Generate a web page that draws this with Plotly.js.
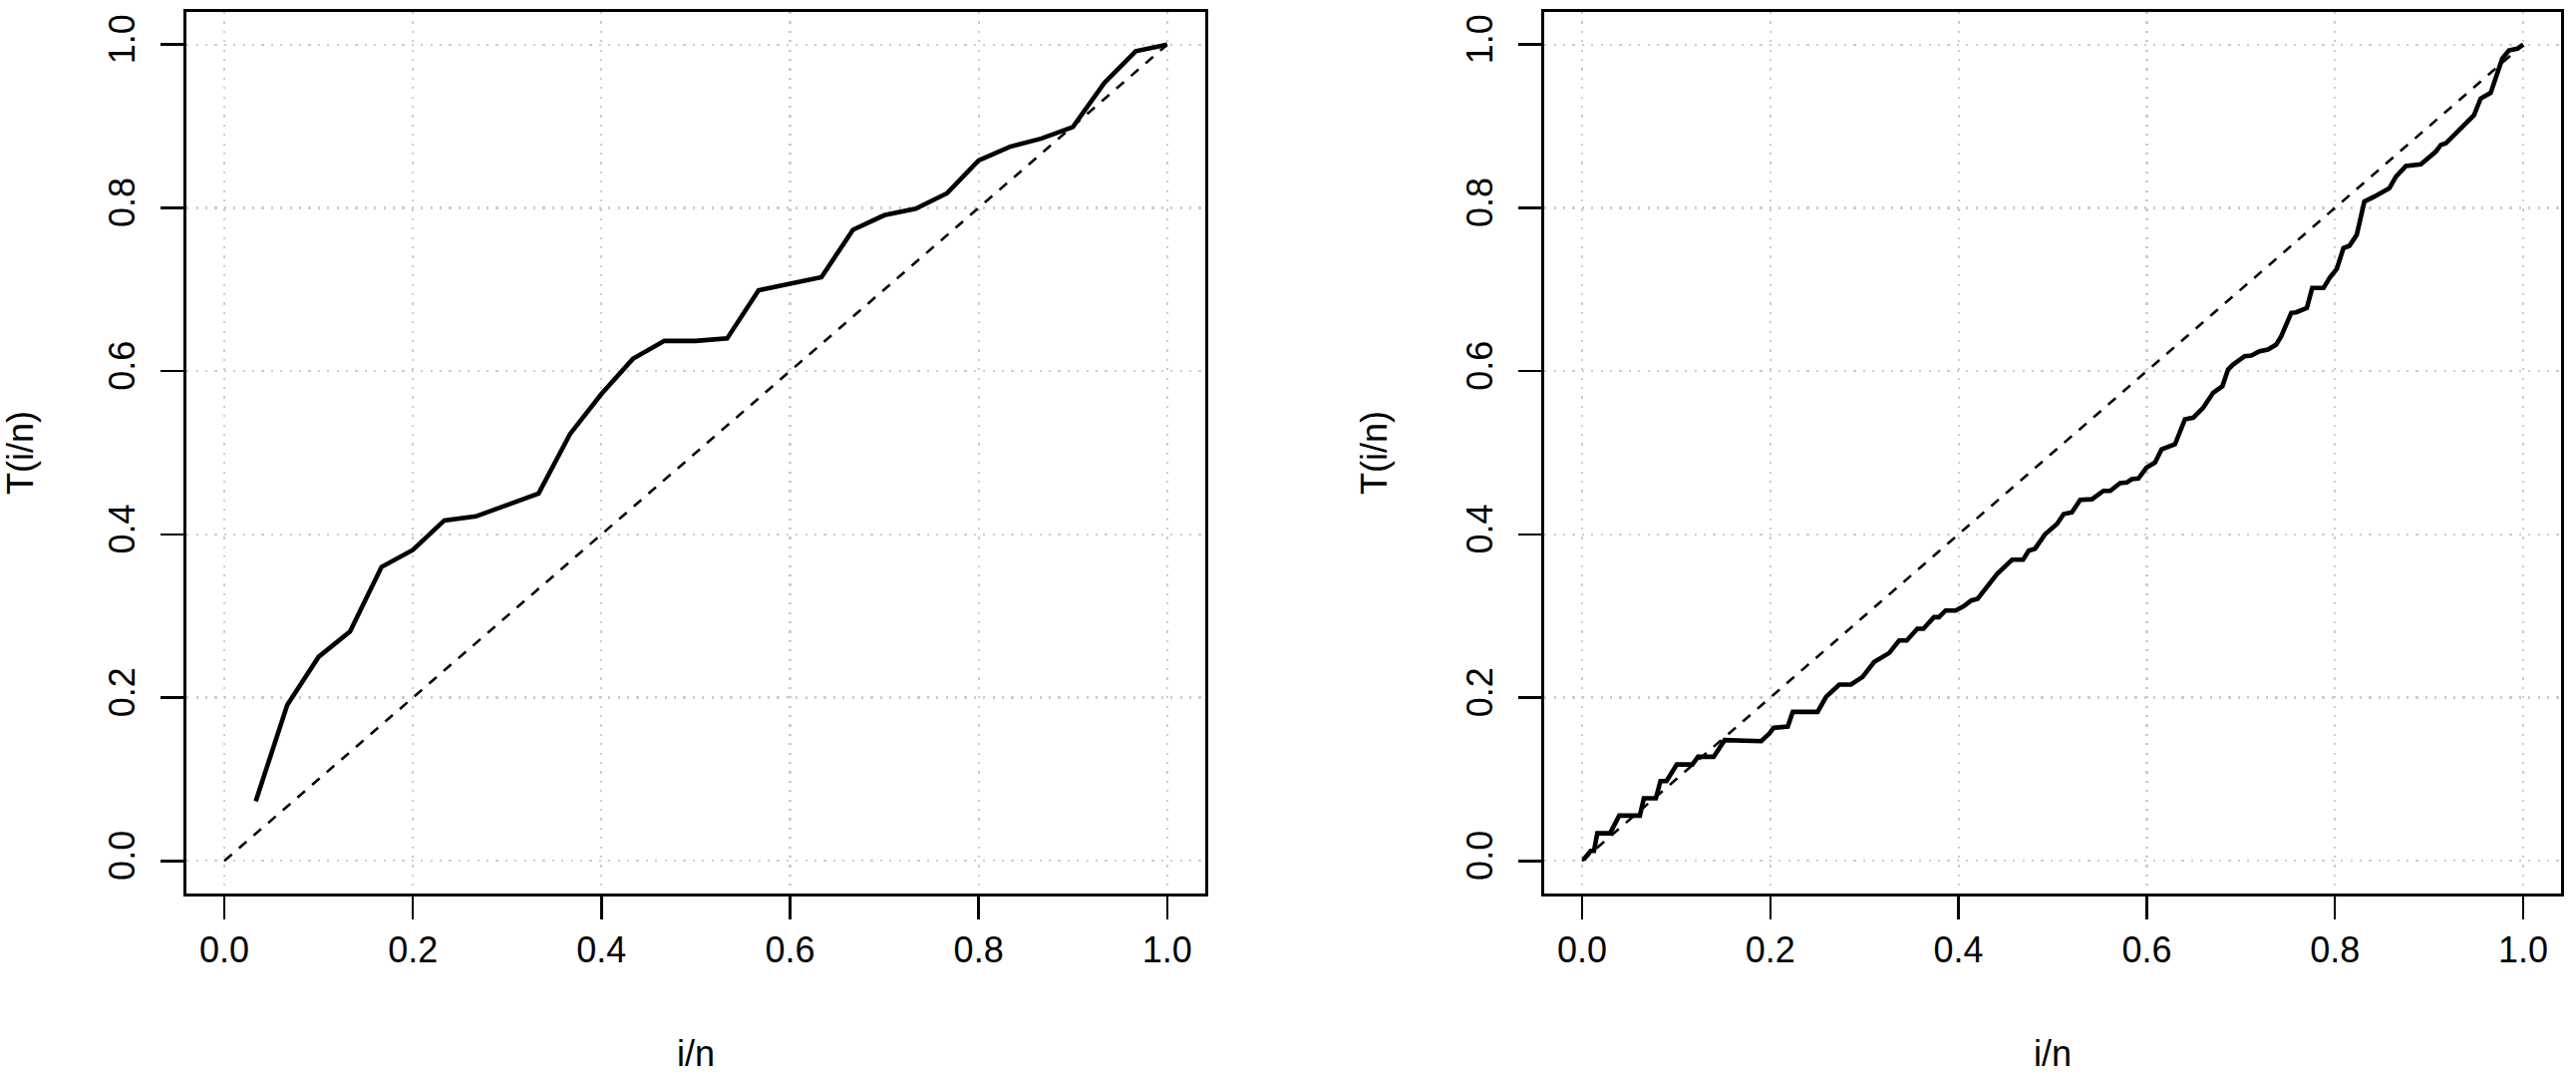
<!DOCTYPE html>
<html>
<head>
<meta charset="utf-8">
<script src="https://cdn.plot.ly/plotly-3.0.1.min.js"></script>
<style>html,body{margin:0;padding:0;background:#fff;}#chart{width:2584px;height:1080px;}</style>
</head>
<body>
<div id="chart"></div>
<script>
// Left panel: T(i/n) for n = 30
const leftX = [0.0333, 0.0667, 0.1, 0.1333, 0.1667, 0.2, 0.2333, 0.2667, 0.3, 0.3333,
               0.3667, 0.4, 0.4333, 0.4667, 0.5, 0.5333, 0.5667, 0.6, 0.6333, 0.6667,
               0.7, 0.7333, 0.7667, 0.8, 0.8333, 0.8667, 0.9, 0.9333, 0.9667, 1.0];
const leftY = [0.073, 0.191, 0.25, 0.281, 0.36, 0.381, 0.417, 0.422, 0.436, 0.45,
               0.523, 0.572, 0.615, 0.637, 0.637, 0.64, 0.699, 0.707, 0.715, 0.773,
               0.791, 0.799, 0.818, 0.858, 0.875, 0.885, 0.899, 0.953, 0.992, 1.0];

// Right panel: traced curve
const rightX = [0.0014, 0.0092, 0.0127, 0.0162, 0.0297, 0.0395, 0.0614, 0.0657, 0.0784, 0.0833,
                0.0897, 0.1006, 0.1172, 0.1232, 0.1398, 0.1515, 0.1903, 0.199, 0.2034, 0.2186,
                0.2239, 0.2503, 0.2592, 0.2733, 0.2857, 0.298, 0.3104, 0.3263, 0.3369, 0.345,
                0.3563, 0.3627, 0.3739, 0.3792, 0.3863, 0.3969, 0.4057, 0.4135, 0.4203, 0.4269,
                0.4322, 0.441, 0.4569, 0.4686, 0.4746, 0.4813, 0.4922, 0.5046, 0.5117, 0.5205,
                0.5293, 0.5417, 0.554, 0.5611, 0.5717, 0.5788, 0.584, 0.5911, 0.5999, 0.6088,
                0.6158, 0.63, 0.6406, 0.6494, 0.66, 0.6706, 0.6804, 0.6864, 0.6917, 0.7041,
                0.7111, 0.72, 0.7288, 0.7376, 0.7429, 0.7535, 0.7588, 0.7701, 0.7758, 0.7878,
                0.7942, 0.8019, 0.809, 0.8153, 0.8231, 0.8277, 0.8312, 0.8418, 0.8577, 0.8648,
                0.8754, 0.8912, 0.9071, 0.9124, 0.9177, 0.9478, 0.9548, 0.9654, 0.9707, 0.9778,
                0.9848, 0.9936, 1.0];
const rightY = [0.0012, 0.0122, 0.0122, 0.0338, 0.0338, 0.0555, 0.0555, 0.0766, 0.0766, 0.0978,
                0.0978, 0.118, 0.118, 0.1275, 0.1275, 0.1479, 0.1467, 0.156, 0.163, 0.1645,
                0.1825, 0.1825, 0.2009, 0.2159, 0.2159, 0.2253, 0.2436, 0.2546, 0.27, 0.27,
                0.2843, 0.2843, 0.2986, 0.2986, 0.3067, 0.3067, 0.312, 0.319, 0.321, 0.3311,
                0.3393, 0.3515, 0.369, 0.369, 0.38, 0.3825, 0.4004, 0.4126, 0.4249, 0.427,
                0.4423, 0.443, 0.4533, 0.4533, 0.4627, 0.4635, 0.4676, 0.4684, 0.4819, 0.488,
                0.5043, 0.5104, 0.541, 0.543, 0.5552, 0.5735, 0.5816, 0.602, 0.6081, 0.6183,
                0.619, 0.6244, 0.6265, 0.6326, 0.6427, 0.6713, 0.672, 0.6774, 0.7018, 0.7018,
                0.714, 0.7251, 0.7507, 0.7535, 0.767, 0.7894, 0.8077, 0.8138, 0.824, 0.8382,
                0.8513, 0.8533, 0.8688, 0.877, 0.879, 0.9136, 0.934, 0.9409, 0.9604, 0.9829,
                0.993, 0.995, 1.0];

// Reference diagonal
const diagX = [0, 1];
const diagY = [0, 1];

// Axis ticks
const tickValues = [0, 0.2, 0.4, 0.6, 0.8, 1.0];
const tickLabels = ['0.0', '0.2', '0.4', '0.6', '0.8', '1.0'];

const xTitle = 'i/n';
const yTitle = 'T(i/n)';

const FONT = 'Liberation Sans, Arial, Helvetica, sans-serif';

function axisStyle(extra) {
  return Object.assign({
    range: [-0.04, 1.04],
    tickmode: 'array',
    tickvals: tickValues,
    ticktext: tickLabels,
    ticks: 'outside',
    ticklen: 23,
    tickwidth: 2.5,
    tickcolor: '#000',
    showline: true,
    mirror: true,
    linecolor: '#000',
    linewidth: 3,
    showgrid: true,
    gridcolor: '#CDCDCD',
    gridwidth: 2.2,
    griddash: '2.2px,7.2px',
    zeroline: false,
    tickfont: {family: FONT, size: 36, color: '#000'},
    fixedrange: true
  }, extra);
}

const solid = {color: '#000', width: 4.6};
const dashed = {color: '#000', width: 2.6, dash: '10px,9.4px'};

const traces = [
  {x: diagX, y: diagY, xaxis: 'x', yaxis: 'y', mode: 'lines', line: dashed, hoverinfo: 'skip'},
  {x: leftX, y: leftY, xaxis: 'x', yaxis: 'y', mode: 'lines', line: solid},
  {x: diagX, y: diagY, xaxis: 'x2', yaxis: 'y2', mode: 'lines', line: dashed, hoverinfo: 'skip'},
  {x: rightX, y: rightY, xaxis: 'x2', yaxis: 'y2', mode: 'lines', line: solid}
];

const xTitleObj = {text: xTitle, font: {family: FONT, size: 36, color: '#000'}, standoff: 72};
const yTitleObj = {text: yTitle, font: {family: FONT, size: 36, color: '#000'}, standoff: 62};

const layout = {
  width: 2584,
  height: 1080,
  margin: {l: 0, r: 0, t: 12, b: 184, pad: 0},
  paper_bgcolor: '#fff',
  plot_bgcolor: '#fff',
  showlegend: false,
  font: {family: FONT, size: 36, color: '#000'},
  xaxis: axisStyle({domain: [0.07245, 0.46773], anchor: 'y', title: xTitleObj, automargin: false}),
  yaxis: axisStyle({domain: [0, 1], anchor: 'x', tickangle: -90, ticklabelstandoff: 12, title: yTitleObj, automargin: false}),
  xaxis2: axisStyle({domain: [0.59954, 0.99412], anchor: 'y2', title: xTitleObj, automargin: false}),
  yaxis2: axisStyle({domain: [0, 1], anchor: 'x2', tickangle: -90, ticklabelstandoff: 12, title: yTitleObj, automargin: false})
};

Plotly.newPlot('chart', traces, layout, {displayModeBar: false, staticPlot: true});
</script>
</body>
</html>
